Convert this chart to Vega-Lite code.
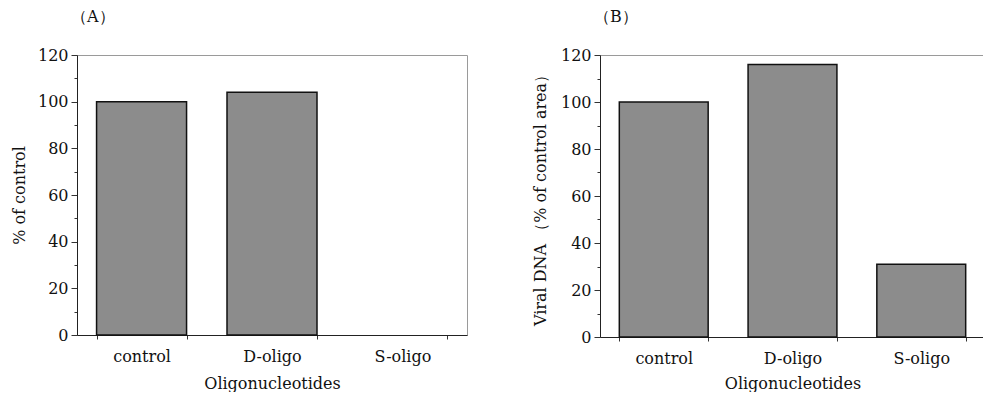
{
  "$schema": "https://vega.github.io/schema/vega-lite/v6.json",
  "padding": {"left": 10, "top": 8, "right": 0, "bottom": 0},
  "spacing": 63,
  "datasets": {
    "a": [
      {"oligo": "control", "value": 100},
      {"oligo": "D-oligo", "value": 104},
      {"oligo": "S-oligo", "value": null}
    ],
    "b": [
      {"oligo": "control", "value": 100},
      {"oligo": "D-oligo", "value": 116},
      {"oligo": "S-oligo", "value": 31}
    ]
  },
  "config": {
    "font": "DejaVu Serif, serif",
    "view": {"stroke": "#9a9a9a", "strokeWidth": 1},
    "axis": {
      "labelFont": "DejaVu Serif, serif",
      "titleFont": "DejaVu Serif, serif",
      "labelFontSize": 16,
      "titleFontSize": 16,
      "titleFontWeight": "normal",
      "labelColor": "#111",
      "titleColor": "#111",
      "domainColor": "#222",
      "tickColor": "#333",
      "grid": false
    },
    "title": {"font": "DejaVu Serif, serif", "fontSize": 16, "fontWeight": "normal", "anchor": "start", "frame": "group", "offset": 22, "dx": -6, "color": "#111"}
  },
  "hconcat": [
    {
      "title": "（A）",
      "width": 390,
      "height": 280,
      "data": {"name": "a"},
      "mark": {"type": "bar", "fill": "#8c8c8c", "stroke": "#111", "strokeWidth": 1.5},
      "encoding": {
        "x": {
          "field": "oligo", "type": "nominal",
          "scale": {"domain": ["control", "D-oligo", "S-oligo"], "paddingInner": 0.31, "paddingOuter": 0.15},
          "axis": {"title": "Oligonucleotides", "labelAngle": 0, "tickBand": "extent", "tickSize": 4, "labelPadding": 9, "titlePadding": 11}
        },
        "y": {
          "field": "value", "type": "quantitative",
          "scale": {"domain": [0, 120], "nice": false},
          "axis": {
            "title": "% of control",
            "values": [0, 10, 20, 30, 40, 50, 60, 70, 80, 90, 100, 110, 120],
            "labelExpr": "datum.value % 20 === 0 ? datum.label : ''",
            "tickSize": {"condition": {"test": "datum.value % 20 === 0", "value": 6}, "value": 3},
            "labelPadding": 3,
            "titlePadding": 10
          }
        }
      }
    },
    {
      "title": "（B）",
      "width": 385,
      "height": 282,
      "data": {"name": "b"},
      "mark": {"type": "bar", "fill": "#8c8c8c", "stroke": "#111", "strokeWidth": 1.5},
      "encoding": {
        "x": {
          "field": "oligo", "type": "nominal",
          "scale": {"domain": ["control", "D-oligo", "S-oligo"], "paddingInner": 0.31, "paddingOuter": 0.15},
          "axis": {"title": "Oligonucleotides", "labelAngle": 0, "tickBand": "extent", "tickSize": 4, "labelPadding": 9, "titlePadding": 9}
        },
        "y": {
          "field": "value", "type": "quantitative",
          "scale": {"domain": [0, 120], "nice": false},
          "axis": {
            "title": "Viral DNA （% of control area）",
            "values": [0, 10, 20, 30, 40, 50, 60, 70, 80, 90, 100, 110, 120],
            "labelExpr": "datum.value % 20 === 0 ? datum.label : ''",
            "tickSize": {"condition": {"test": "datum.value % 20 === 0", "value": 6}, "value": 3},
            "labelPadding": 3,
            "titlePadding": 12
          }
        }
      }
    }
  ]
}
